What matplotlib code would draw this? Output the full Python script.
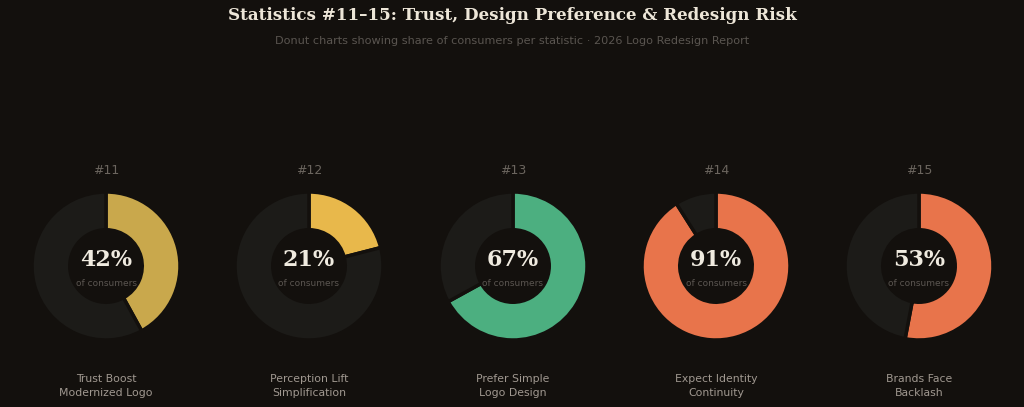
import matplotlib
matplotlib.use('agg')
import matplotlib.pyplot as plt

# statistics shown as donuts
stat_ids = ['#11', '#12', '#13', '#14', '#15']
shares = [42, 21, 67, 91, 53]
labels = ['Trust Boost\nModernized Logo', 'Perception Lift\nSimplification',
          'Prefer Simple\nLogo Design', 'Expect Identity\nContinuity',
          'Brands Face\nBacklash']
colors = ['#c9a84c', '#e8b84b', '#4caf80', '#e8744b', '#e8744b']

bg = '#13100d'
rest = '#1c1b18'

W, H = 1024, 407
fig = plt.figure(figsize=(W / 100, H / 100), dpi=100, facecolor=bg)

centers_x = [106, 309, 513, 716, 919]
cy = 266
r = 74

for i in range(len(shares)):
    cx = centers_x[i]
    ax = fig.add_axes([(cx - r) / W, (H - cy - r) / H, 2 * r / W, 2 * r / H])
    ax.set_facecolor(bg)
    ax.pie([shares[i], 100 - shares[i]], colors=[colors[i], rest],
           startangle=90, counterclock=False, radius=1,
           wedgeprops=dict(width=0.51, edgecolor=bg, linewidth=2.5))
    ax.set_xlim(-1, 1)
    ax.set_ylim(-1, 1)
    ax.set_aspect('equal')
    ax.axis('off')
    ax.text(0, 0.08, f'{shares[i]}%', ha='center', va='center',
            fontsize=16, fontweight='bold', family='DejaVu Serif', color='#f0ebe0')
    ax.text(0, -0.23, 'of consumers', ha='center', va='center',
            fontsize=6.5, color='#5a5550')
    fig.text(cx / W, 1 - 170 / H, stat_ids[i], ha='center', va='center',
             fontsize=9, color='#6b655e')
    fig.text(cx / W, 1 - 386 / H, labels[i], ha='center', va='center',
             fontsize=7.8, color='#a09890', linespacing=1.45)

fig.text(0.5, 1 - 16 / H, 'Statistics #11\u201315: Trust, Design Preference & Redesign Risk',
         ha='center', va='center', fontsize=12.1, fontweight='bold',
         family='DejaVu Serif', color='#ede6d8')
fig.text(0.5, 1 - 41 / H,
         'Donut charts showing share of consumers per statistic \u00b7 2026 Logo Redesign Report',
         ha='center', va='center', fontsize=8.1, color='#5a5550')

fig.savefig('out.png', dpi=100, facecolor=bg)
